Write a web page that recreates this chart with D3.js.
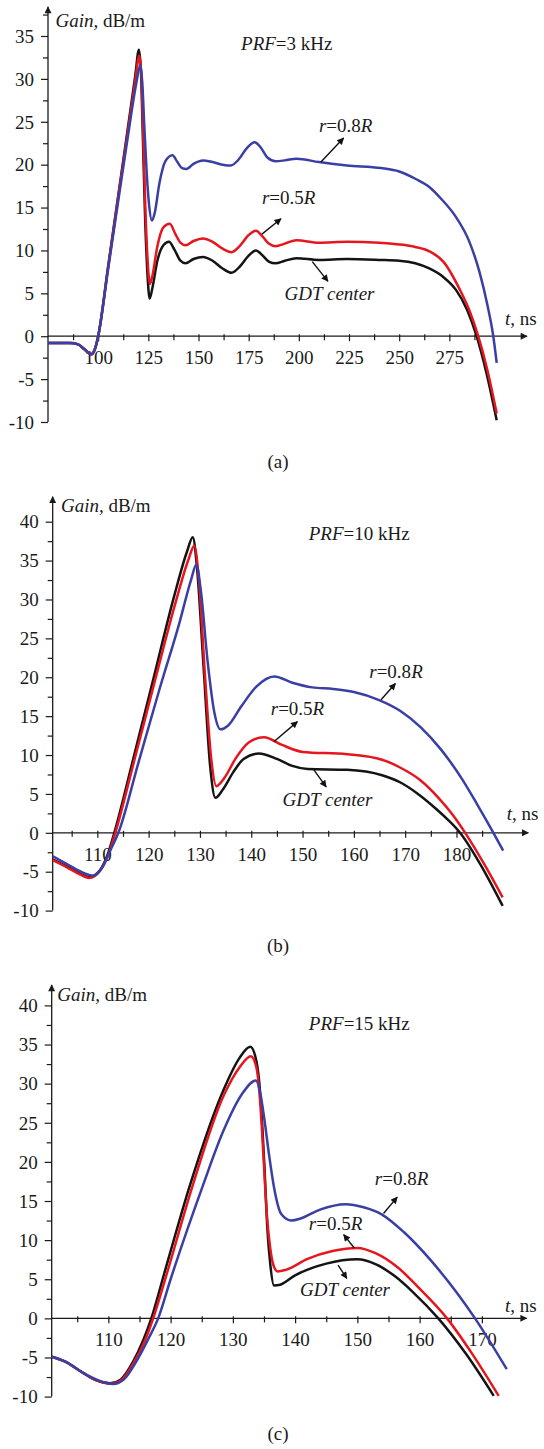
<!DOCTYPE html>
<html>
<head>
<meta charset="utf-8">
<script src="https://cdn.jsdelivr.net/npm/d3@7"></script>
<style>
  body { margin: 0; background: #fff; }
  svg text { font-family: "Liberation Serif", "Times New Roman", serif; font-size: 19px; fill: #1a1a1a; }
</style>
</head>
<body>
<script>
// ---- panel (a), PRF = 3 kHz : [t ns, gain dB/m]
const aGdt = [[75,-0.8],[86,-0.8],[90,-0.95],[93,-1.5],[96.5,-2.1],[98.5,-1.4],[100,0],[105,8.2],[110,16.4],[115,24.6],[118.5,30.4],[120.3,33.4],[121.3,31],[122.3,23],[123.3,14.5],[124.5,7.5],[125.7,4.4],[127,5.6],[129.5,8.8],[132.5,10.6],[135.3,11.0],[138,10.1],[141,8.8],[143.5,8.5],[147.5,9.0],[152.3,9.25],[157,8.8],[162,7.9],[166.5,7.4],[170.5,8.1],[175,9.4],[178.6,10.0],[182,9.4],[185,8.7],[188.4,8.5],[193,8.8],[198.8,9.1],[210,8.9],[224,9.0],[240,8.9],[250,8.8],[258,8.5],[265,7.9],[272,6.9],[278.3,5.4],[284,3.0],[288.6,0],[293.6,-4.4],[298.6,-9.8]];
const aR05 = [[75,-0.8],[86,-0.8],[90,-0.95],[93,-1.5],[96.5,-2.1],[98.5,-1.4],[100,0],[105,8.1],[110,16.2],[115,24.2],[118.5,29.8],[120.5,32.7],[121.5,30.5],[122.5,23],[123.5,15],[124.6,9],[125.8,6.1],[127,7.0],[129.5,10.5],[132.5,12.7],[135.7,13.1],[138.5,11.9],[141,10.9],[143.5,10.6],[147.5,11.1],[152.3,11.4],[157,11.0],[162,10.2],[166.5,9.8],[170.5,10.5],[175,11.8],[178.6,12.3],[182,11.6],[185,10.8],[188.4,10.5],[193,10.8],[198.8,11.2],[210,10.9],[224,11.0],[240,10.9],[250,10.7],[258,10.4],[265,9.9],[272,8.7],[280.3,5.4],[285,3.0],[289.4,0],[294,-4.0],[298.6,-9.0]];
const aR08 = [[75,-0.8],[86,-0.8],[90,-0.95],[93,-1.5],[96.8,-2.1],[98.7,-1.3],[100,0],[105,7.9],[110,15.8],[115,23.6],[119,29.5],[121,31.6],[122,29.5],[123,24.5],[124.2,19],[125.3,15.5],[126.8,13.5],[128.2,14.4],[130.5,17.8],[133.5,20.4],[137,21.1],[139.5,20.3],[141.8,19.6],[144,19.5],[147.5,20.1],[152.3,20.5],[157,20.3],[162,20.0],[166,19.9],[170,20.6],[174,21.9],[178,22.6],[181,22.0],[184.5,20.8],[188.4,20.4],[193,20.5],[198.8,20.7],[210,20.3],[224,19.9],[241,19.6],[250,19.2],[258.5,18.3],[265,17.4],[271,16.0],[278,14.0],[285,11.0],[290,7.5],[294,3.6],[296.9,0],[298.6,-3.1]];

// ---- panel (b), PRF = 10 kHz
const bGdt = [[101.3,-3.4],[104,-4.3],[106.5,-5.2],[108.4,-5.7],[110.5,-4.8],[112,-2.8],[113.3,0],[117,9.5],[121,20],[125,30.5],[127.5,36.2],[128.6,38],[129.4,34.3],[130.7,21.4],[132,8.5],[133,4.5],[134.5,5.6],[136.5,7.8],[138.5,9.5],[141.5,10.2],[145,9.5],[148,8.6],[151,8.2],[158.7,8.1],[165.5,7.4],[169,6.5],[172.5,5.0],[176,3.1],[178.3,1.7],[180.7,0],[184.6,-4.0],[189,-9.4]];
const bR05 = [[101.3,-3.5],[104,-4.4],[106.5,-5.3],[108.4,-5.8],[110.5,-4.9],[112.1,-2.9],[113.5,0],[117.2,9.3],[121.2,19.5],[125.2,29.5],[127.8,35.2],[128.9,36.9],[129.8,32.5],[131,20],[132.2,9.5],[133.2,6.0],[134.7,7.0],[137,9.6],[139.5,11.6],[142.5,12.3],[146,11.3],[150,10.4],[158.7,10.1],[165.5,9.4],[169,8.4],[172.9,6.8],[176.5,4.5],[179.4,2.2],[181.7,0],[185.3,-3.9],[189,-8.3]];
const bR08 = [[101.3,-3.0],[104,-4.0],[106.5,-4.9],[109.2,-5.5],[111,-4.4],[112.5,-2.3],[114.1,0],[118,9],[122,18.2],[126,27],[128.3,32.6],[129.3,34.5],[130.2,31],[131.5,22],[132.8,15.5],[134,13.3],[135.5,13.8],[138,16.2],[141,18.8],[144.5,20.1],[148,19.3],[151.9,18.7],[156,18.5],[160,18.1],[164.8,17.1],[169,15.7],[173,13.6],[177,10.7],[181,7.0],[184,3.7],[187.2,0],[189.1,-2.3]];

// ---- panel (c), PRF = 15 kHz
const cGdt = [[100.9,-4.9],[103,-5.5],[106,-7.0],[108,-7.9],[110.3,-8.3],[112,-7.8],[114,-5.5],[115.6,-2.8],[116.9,0],[119,5.8],[123.1,17.0],[128.5,29.2],[131,33.2],[132.8,34.7],[133.6,33.5],[134.2,30.5],[134.7,25],[135.1,19],[135.5,12],[136,7],[136.6,4.2],[137.6,4.3],[140,5.5],[145,7.0],[150,7.55],[153,6.9],[156,5.4],[159,3.3],[163,0],[167.5,-4.6],[171.9,-9.9]];
const cR05 = [[100.9,-4.9],[103,-5.5],[106,-7.0],[108,-7.9],[110.5,-8.35],[112.2,-7.8],[114.2,-5.5],[115.9,-2.8],[117.2,0],[119.5,6.0],[123.4,16.6],[128.6,28.6],[131,32.0],[132.9,33.5],[133.8,32],[134.4,27.5],[134.9,21],[135.4,14],[136,9],[136.6,6.6],[137.2,6.0],[138.5,6.2],[142,7.6],[146,8.6],[150,9.0],[153,8.3],[156.5,6.5],[160,3.8],[164.4,0],[168.5,-4.6],[172.7,-9.9]];
const cR08 = [[100.9,-4.9],[103,-5.5],[106,-7.0],[108.3,-7.9],[110.8,-8.4],[112.5,-7.8],[114.5,-5.5],[116.5,-2.5],[118,0],[120,5.0],[125.2,17.0],[128.5,24],[131.5,28.7],[133.7,30.4],[134.4,28.8],[135,25.8],[135.8,21],[136.6,16.8],[137.8,13.3],[139.4,12.5],[141,12.8],[144,13.9],[148.1,14.6],[151,14.2],[153.9,13.3],[157.5,11.0],[161.7,7.5],[168.9,0],[174,-6.5]];

// ---- ticks
const aXTicks = [100,125,150,175,200,225,250,275];
const aXMinor = [87.5,112.5,137.5,162.5,187.5,212.5,237.5,262.5,287.5];
const aYTicks = [-10,-5,0,5,10,15,20,25,30,35];
const aYMinor = [-7.5,-2.5,2.5,7.5,12.5,17.5,22.5,27.5,32.5,37.5];
const bXTicks = [110,120,130,140,150,160,170,180];
const bXMinor = [105,115,125,135,145,155,165,175,185];
const cXTicks = [110,120,130,140,150,160,170];
const cXMinor = [105,115,125,135,145,155,165];
const bcYTicks = [-10,-5,0,5,10,15,20,25,30,35,40];
const bcYMinor = [-7.5,-2.5,2.5,7.5,12.5,17.5,22.5,27.5,32.5,37.5];

// ---- text pieces [text, italic]
const prfA = [["PRF",1],["=3 kHz",0]];
const prfB = [["PRF",1],["=10 kHz",0]];
const prfC = [["PRF",1],["=15 kHz",0]];
const lblR08 = [["r",1],["=0.8",0],["R",1]];
const lblR05 = [["r",1],["=0.5",0],["R",1]];
const lblGdt = [["GDT center",1]];
const yTitle = [["Gain,",1],[" dB/m",0]];
const xTitle = [["t",1],[", ns",0]];
const seriesColors = ["#141414", "#e5161d", "#3a3fa6"];

const panels = [
  { caption: "(a)", series: [aGdt, aR05, aR08],
    xDomain: [75, 313.7], xRange: [48, 527], yDomain: [-10, 35], yRange: [422, 36], yArrow: 38.4,
    xTicks: aXTicks, xMinor: aXMinor, yTicks: aYTicks, yMinor: aYMinor, captionY: 468,
    yTitleAt: [78.7, 36.1], xTitleAt: [302.7, 1.3],
    notes: [
      { text: prfA, at: [171.2, 33.4] },
      { text: lblR08, at: [210, 23.8], from: [211, 20.3], to: [222.3, 23.1] },
      { text: lblR05, at: [181.6, 15.4], from: [181.6, 11.9], to: [191.1, 13.7] },
      { text: lblGdt, at: [192.9, 4.2], from: [206.7, 8.7], to: [214.5, 6.4] } ] },
  { caption: "(b)", series: [bGdt, bR05, bR08],
    xDomain: [101.3, 194], xRange: [52.7, 528.3], yDomain: [-10, 40], yRange: [910.6, 521.7], yArrow: 43.2,
    xTicks: bXTicks, xMinor: bXMinor, yTicks: bcYTicks, yMinor: bcYMinor, captionY: 952,
    yTitleAt: [102.9, 41.3], xTitleAt: [189.8, 1.6],
    notes: [
      { text: prfB, at: [151.2, 37.6] },
      { text: lblR08, at: [163.0, 19.9], from: [165.3, 17.1], to: [168.1, 19.2] },
      { text: lblR05, at: [143.8, 15.1], from: [144.4, 11.7], to: [149.0, 14.3] },
      { text: lblGdt, at: [146.1, 3.4], from: [152.2, 8.1], to: [154.6, 5.9] } ] },
  { caption: "(c)", series: [cGdt, cR05, cR08],
    xDomain: [100.9, 177.2], xRange: [51.7, 526.7], yDomain: [-10, 40], yRange: [1396.6, 1005.4], yArrow: 42.6,
    xTicks: cXTicks, xMinor: cXMinor, yTicks: bcYTicks, yMinor: bcYMinor, captionY: 1440,
    yTitleAt: [101.8, 40.6], xTitleAt: [173.7, 0.8],
    notes: [
      { text: prfC, at: [142.2, 36.8] },
      { text: lblR08, at: [152.8, 17.0], from: [154.2, 13.4], to: [156.4, 15.5] },
      { text: lblR05, at: [142.2, 11.3], from: [149.5, 9.0], to: [147.8, 10.7] },
      { text: lblGdt, at: [140.8, 2.8], from: [146.9, 6.8], to: [148.3, 5.1] } ] }
];

const svg = d3.select("body").append("svg")
  .attr("width", 544).attr("height", 1449);

const defs = svg.append("defs");
defs.append("marker").attr("id", "axArrow")
  .attr("viewBox", "0 0 10 10").attr("refX", 9).attr("refY", 5)
  .attr("markerWidth", 11).attr("markerHeight", 7).attr("markerUnits", "userSpaceOnUse")
  .attr("orient", "auto")
  .append("path").attr("d", "M0,0L10,5L0,10z").attr("fill", "#1a1a1a");
defs.append("marker").attr("id", "noteArrow")
  .attr("viewBox", "0 0 10 10").attr("refX", 9).attr("refY", 5)
  .attr("markerWidth", 9).attr("markerHeight", 7).attr("markerUnits", "userSpaceOnUse")
  .attr("orient", "auto")
  .append("path").attr("d", "M0,0L10,5L0,10z").attr("fill", "#111");

function addText(g, pieces, px, py, anchor) {
  const t = g.append("text").attr("x", px).attr("y", py);
  if (anchor) t.attr("text-anchor", anchor);
  for (const [s, it] of pieces) {
    t.append("tspan").attr("font-style", it ? "italic" : "normal").text(s);
  }
  return t;
}

function tidy(ax) {
  ax.attr("font-size", null).attr("font-family", null);
  ax.select(".domain").remove();
  ax.selectAll("line").attr("stroke", "#1a1a1a").attr("stroke-width", 1.2);
}

for (const p of panels) {
  const x = d3.scaleLinear(p.xDomain, p.xRange);
  const y = d3.scaleLinear(p.yDomain, p.yRange);
  const g = svg.append("g");

  // y axis
  const yAx = g.append("g").attr("transform", `translate(${x(p.xDomain[0])},0)`)
    .call(d3.axisLeft(y).tickValues(p.yTicks).tickFormat(d => String(d)).tickSize(7).tickPadding(7).tickSizeOuter(0));
  tidy(yAx);
  yAx.selectAll("text").attr("dy", "0.33em");
  const yMin = g.append("g").attr("transform", `translate(${x(p.xDomain[0])},0)`)
    .call(d3.axisLeft(y).tickValues(p.yMinor).tickFormat("").tickSize(5).tickSizeOuter(0));
  tidy(yMin);
  g.append("line")
    .attr("x1", x(p.xDomain[0])).attr("x2", x(p.xDomain[0]))
    .attr("y1", y(p.yDomain[0])).attr("y2", y(p.yArrow))
    .attr("stroke", "#1a1a1a").attr("stroke-width", 1.3).attr("marker-end", "url(#axArrow)");

  // x axis at gain = 0
  const xAx = g.append("g").attr("transform", `translate(0,${y(0)})`)
    .call(d3.axisBottom(x).tickValues(p.xTicks).tickFormat(d => String(d)).tickSize(5).tickSizeOuter(0));
  tidy(xAx);
  xAx.selectAll("line").attr("y1", -2);
  xAx.selectAll("text").attr("y", 28).attr("dy", 0);
  const xMin = g.append("g").attr("transform", `translate(0,${y(0)})`)
    .call(d3.axisBottom(x).tickValues(p.xMinor).tickFormat("").tickSize(4).tickSizeOuter(0));
  tidy(xMin);
  xMin.selectAll("line").attr("y1", -2);
  g.append("line")
    .attr("x1", x(p.xDomain[0])).attr("x2", x(p.xDomain[1]))
    .attr("y1", y(0)).attr("y2", y(0))
    .attr("stroke", "#1a1a1a").attr("stroke-width", 1.3).attr("marker-end", "url(#axArrow)");

  // curves
  const line = d3.line().x(d => x(d[0])).y(d => y(d[1])).curve(d3.curveMonotoneX);
  g.append("g").selectAll("path")
    .data(p.series)
    .enter()
    .append("path")
    .attr("d", d => line(d))
    .attr("fill", "none")
    .attr("stroke", (d, i) => seriesColors[i])
    .attr("stroke-width", 2.5)
    .attr("stroke-linejoin", "round");

  // titles
  addText(g, yTitle, x(p.yTitleAt[0]), y(p.yTitleAt[1]));
  addText(g, xTitle, x(p.xTitleAt[0]), y(p.xTitleAt[1]));

  // annotations
  for (const n of p.notes) {
    addText(g, n.text, x(n.at[0]), y(n.at[1]));
    if (n.from) {
      g.append("line")
        .attr("x1", x(n.from[0])).attr("y1", y(n.from[1]))
        .attr("x2", x(n.to[0])).attr("y2", y(n.to[1]))
        .attr("stroke", "#111").attr("stroke-width", 1.4)
        .attr("marker-end", "url(#noteArrow)");
    }
  }

  g.append("text").attr("x", 278).attr("y", p.captionY)
    .attr("text-anchor", "middle").text(p.caption);
}
</script>
</body>
</html>
